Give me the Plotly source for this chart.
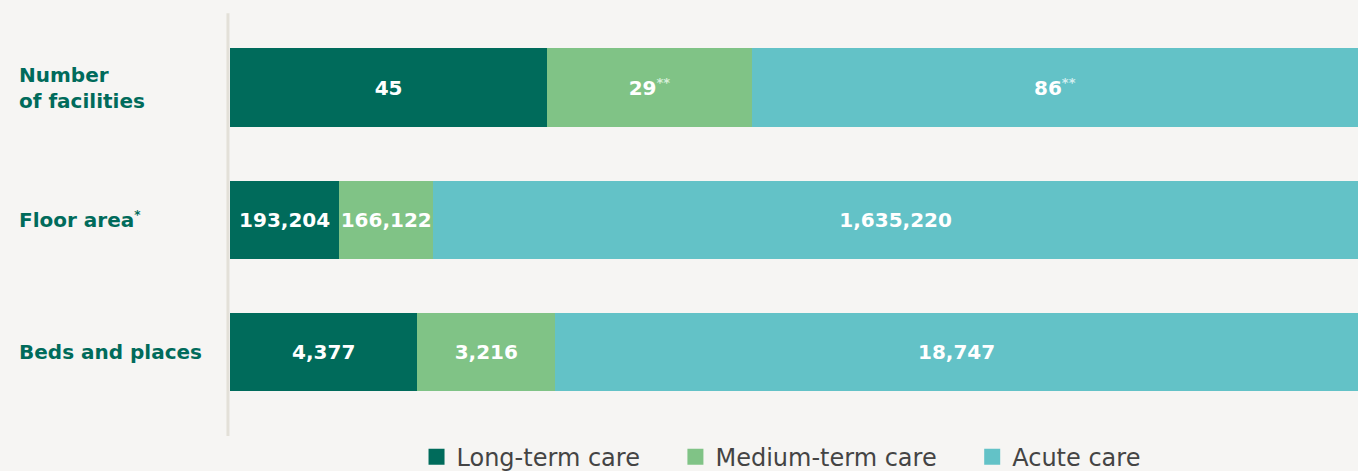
import plotly.graph_objects as go

# data
categories = ["Number<br>of facilities", "Floor area<sup><span style='font-size:12px'>*</span></sup>",
              "Beds and places"]
series_names = ["Long-term care", "Medium-term care", "Acute care"]
long_term = [45, 193204, 4377]
medium_term = [29, 166122, 3216]
acute = [86, 1635220, 18747]
footnote_marks = [["", "", ""], ["**", "", ""], ["**", "", ""]]

colors = ["#006b5b", "#80c386", "#63c2c7"]
mark_colors = ["#cfe9e4", "#d6efd8", "#d2eef0"]
bg = "#f6f5f3"
font = "DejaVu Sans"

rows = [0, 1, 2]

fig = go.Figure()
for name, vals, color, marks, mcol in zip(series_names, [long_term, medium_term, acute],
                                          colors, footnote_marks, mark_colors):
    labels = []
    for v, m in zip(vals, marks):
        t = f"{v:,}"
        if m:
            t += f"<sup><span style='color:{mcol};font-size:13px'>{m}</span></sup>"
        labels.append(t)
    fig.add_trace(go.Bar(
        y=rows, x=vals, orientation="h", name=name,
        marker=dict(color=color, line=dict(width=0)),
        width=0.596, showlegend=False,
        text=labels, textposition="inside", insidetextanchor="middle",
        constraintext="none",
        textfont=dict(color="white", size=20, family=font, weight="bold"),
        hoverinfo="skip",
    ))

# legend entries with bigger square swatches (nbsp padding widens the gaps)
pads = ["\u00a0" * 4, "\u00a0" * 4, ""]
for name, color, pad in zip(series_names, colors, pads):
    fig.add_trace(go.Scatter(
        x=[None], y=[None], mode="markers", name=name + pad,
        marker=dict(symbol="square", size=16, color=color),
    ))

# category labels, left aligned at the page edge
for r, c in zip(rows, categories):
    fig.add_annotation(
        x=-(230 - 17) / 1128, xref="paper", y=r, yref="y",
        text=c, showarrow=False, xanchor="left", align="left",
        font=dict(color="#006b5b", size=20, family=font, weight="bold"),
    )

# vertical divider line
fig.add_shape(type="line", xref="paper", yref="paper", x0=-0.0018, x1=-0.0018, y0=-0.003, y1=1.002,
              line=dict(color="#e3e0d8", width=3), layer="below")

fig.update_layout(
    width=1358, height=471,
    barmode="stack", barnorm="percent",
    paper_bgcolor=bg, plot_bgcolor=bg,
    margin=dict(l=230, r=0, t=14, b=35),
    xaxis=dict(visible=False, range=[0, 100], fixedrange=True),
    yaxis=dict(visible=False, range=[2.626, -0.558], fixedrange=True),
    showlegend=True,
    legend=dict(
        orientation="h", x=0.4885, xanchor="center",
        yref="container", y=0.077, yanchor="top",
        font=dict(size=24, color="#444444", family=font),
        traceorder="normal", bgcolor="rgba(0,0,0,0)",
    ),
)

fig.write_html("out.html", config={"displayModeBar": False},
               post_script="document.body.style.margin='0';document.body.style.background='#f6f5f3';")
